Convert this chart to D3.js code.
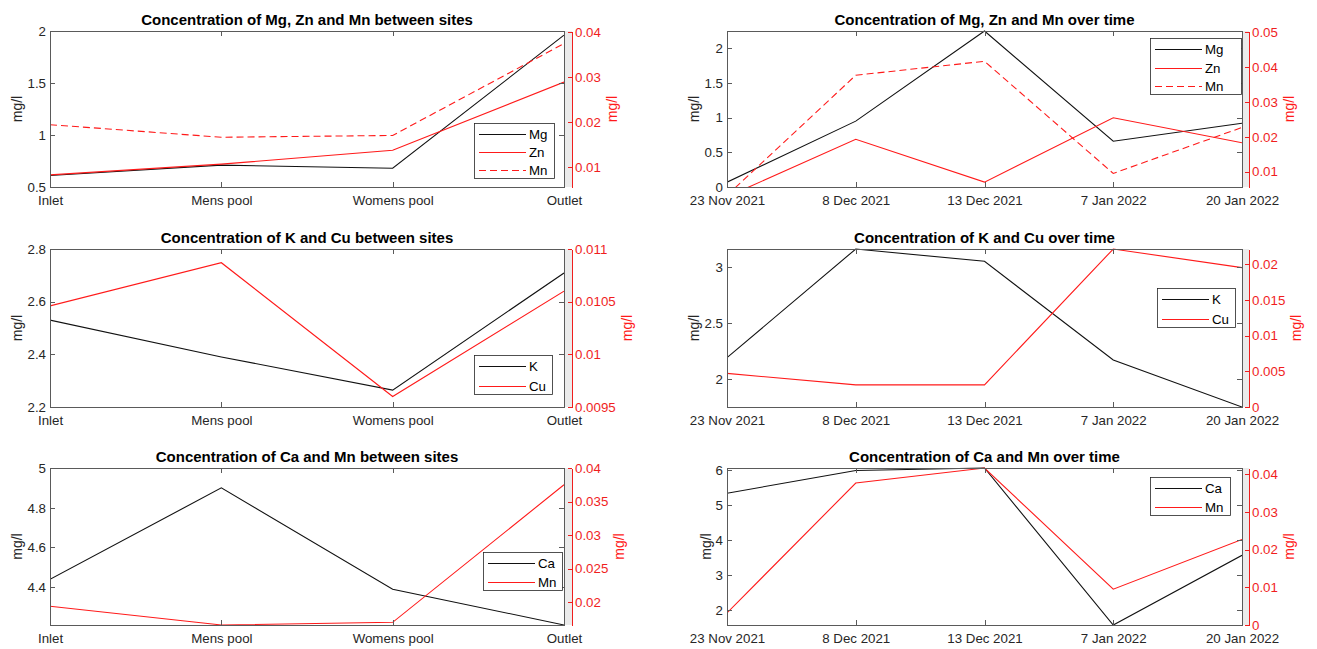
<!DOCTYPE html>
<meta charset="utf-8" />
<style>
    body { margin: 0; background: #fff; }
    text { font-family: "Liberation Sans", Arial, sans-serif; }
    .axis text { font-size: 13.3px; fill: #262626; }
    .axis path, .axis line { stroke: #5a5a5a; shape-rendering: crispEdges; }
    .axis--red text { fill: #f01e1e; }
    .axis--red path, .axis--red line { stroke: #f01e1e; }
    .title { font-size: 15px; font-weight: bold; fill: #000; }
    .ylabel { font-size: 14px; fill: #262626; }
    .legend text { font-size: 13.3px; fill: #000; }
</style>

<svg width="1317" height="649"></svg>

<script src="https://d3js.org/d3.v7.min.js"></script>
<script>
    // categories
    const sites = ['Inlet', 'Mens pool', 'Womens pool', 'Outlet'];
    const dates = ['23 Nov 2021', '8 Dec 2021', '13 Dec 2021', '7 Jan 2022', '20 Jan 2022'];

    // concentrations between sites (mg/l)
    const mgSites = [0.61, 0.71, 0.68, 1.96];
    const znSites = [0.0082, 0.0106, 0.0137, 0.0289];
    const mnSites = [0.0194, 0.0166, 0.0170, 0.0375];
    const kSites = [2.53, 2.39, 2.264, 2.709];
    const cuSites = [0.01046, 0.01087, 0.0096, 0.0106];
    const caSites = [4.44, 4.90, 4.39, 4.21];

    // concentrations over time (mg/l)
    const mgTime = [0.07, 0.95, 2.25, 0.66, 0.92];
    const znTime = [0.0028, 0.0193, 0.0070, 0.0255, 0.0183];
    const mnTime = [0.0032, 0.0377, 0.0417, 0.0095, 0.0227];
    const kTime = [2.19, 3.16, 3.05, 2.17, 1.75];
    const cuTime = [0.0047, 0.0031, 0.0031, 0.0221, 0.0195];
    const caTime = [5.33, 5.98, 6.05, 1.57, 3.56];

    // tick labels
    const ticksMgL = [0.5, 1, 1.5, 2];
    const ticksMgR = [0.01, 0.02, 0.03, 0.04];
    const ticksMgTimeL = [0, 0.5, 1, 1.5, 2];
    const ticksMgTimeR = [0.01, 0.02, 0.03, 0.04, 0.05];
    const ticksKL = [2.2, 2.4, 2.6, 2.8];
    const ticksKR = [0.0095, 0.01, 0.0105, 0.011];
    const ticksKTimeL = [2, 2.5, 3];
    const ticksKTimeR = [0, 0.005, 0.01, 0.015, 0.02];
    const ticksCaL = [4.4, 4.6, 4.8, 5];
    const ticksCaR = [0.02, 0.025, 0.03, 0.035, 0.04];
    const ticksCaTimeL = [2, 3, 4, 5, 6];
    const ticksCaTimeR = [0, 0.01, 0.02, 0.03, 0.04];

    const BLACK = '#111';
    const RED = '#ff1a1a';

    const cols = [
        { x0: 50, x1: 564, axisX: 572 },
        { x0: 727, x1: 1242, axisX: 1249 },
    ];
    const rows = [
        { y0: 31, y1: 187 },
        { y0: 249, y1: 407 },
        { y0: 468, y1: 625 },
    ];

    const panels = [
        {
            title: 'Concentration of Mg, Zn and Mn between sites', col: 0, row: 0, cats: sites,
            left: { domain: [0.5, 2], ticks: ticksMgL, series: [{ name: 'Mg', values: mgSites }] },
            right: { domain: [0.0055, 0.0403], ticks: ticksMgR, series: [{ name: 'Zn', values: znSites }, { name: 'Mn', values: mnSites, dash: true }] },
            legend: { x: 474, y: 123, w: 80, h: 55 },
        },
        {
            title: 'Concentration of Mg, Zn and Mn over time', col: 1, row: 0, cats: dates,
            left: { domain: [0, d3.max(mgTime)], ticks: ticksMgTimeL, series: [{ name: 'Mg', values: mgTime }] },
            right: { domain: [0.0056, 0.0504], ticks: ticksMgTimeR, series: [{ name: 'Zn', values: znTime }, { name: 'Mn', values: mnTime, dash: true }] },
            legend: { x: 1150, y: 38, w: 91, h: 56 },
        },
        {
            title: 'Concentration of K and Cu between sites', col: 0, row: 1, cats: sites,
            left: { domain: [2.2, 2.8], ticks: ticksKL, series: [{ name: 'K', values: kSites }] },
            right: { domain: [0.0095, 0.011], ticks: ticksKR, series: [{ name: 'Cu', values: cuSites }] },
            legend: { x: 474, y: 355, w: 78, h: 39 },
        },
        {
            title: 'Concentration of K and Cu over time', col: 1, row: 1, cats: dates,
            left: { domain: d3.extent(kTime), ticks: ticksKTimeL, series: [{ name: 'K', values: kTime }] },
            right: { domain: [0, d3.max(cuTime)], ticks: ticksKTimeR, series: [{ name: 'Cu', values: cuTime }] },
            legend: { x: 1157, y: 288, w: 78, h: 39 },
        },
        {
            title: 'Concentration of Ca and Mn between sites', col: 0, row: 2, cats: sites,
            left: { domain: [d3.min(caSites), 5], ticks: ticksCaL, series: [{ name: 'Ca', values: caSites }] },
            right: { domain: [d3.min(mnSites), 0.04], ticks: ticksCaR, series: [{ name: 'Mn', values: mnSites }] },
            legend: { x: 483, y: 552, w: 79, h: 38 },
        },
        {
            title: 'Concentration of Ca and Mn over time', col: 1, row: 2, cats: dates,
            left: { domain: d3.extent(caTime), ticks: ticksCaTimeL, series: [{ name: 'Ca', values: caTime }] },
            right: { domain: [0, d3.max(mnTime)], ticks: ticksCaTimeR, series: [{ name: 'Mn', values: mnTime }] },
            legend: { x: 1150, y: 477, w: 80, h: 38 },
        },
    ];

    const svg = d3.select('svg');

    function drawPanel(p, i) {
        const c = cols[p.col];
        const r = rows[p.row];
        const g = svg.append('g');

        const x = d3.scalePoint().domain(p.cats).range([c.x0, c.x1]);
        const yL = d3.scaleLinear().domain(p.left.domain).range([r.y1, r.y0]);
        const yR = d3.scaleLinear().domain(p.right.domain).range([r.y1, r.y0]);

        // grey strip between the box and the red axis
        g.append('rect')
            .attr('x', c.x1)
            .attr('y', r.y0)
            .attr('width', c.axisX - c.x1)
            .attr('height', r.y1 - r.y0)
            .attr('fill', '#ebebeb');

        g.append('clipPath')
            .attr('id', `clip${i}`)
            .append('rect')
            .attr('x', c.x0)
            .attr('y', r.y0 - 1)
            .attr('width', c.x1 - c.x0)
            .attr('height', r.y1 - r.y0 + 2);

        const lines = g.append('g').attr('clip-path', `url(#clip${i})`);

        const drawSeries = (s, y, color) => {
            const line = d3.line()
                .x((d, j) => x(p.cats[j]))
                .y(d => y(d));
            lines.append('path')
                .datum(s.values)
                .attr('fill', 'none')
                .attr('stroke', color)
                .attr('stroke-width', 1.1)
                .attr('stroke-dasharray', s.dash ? '7,4' : null)
                .attr('d', line);
        };
        p.left.series.forEach(s => drawSeries(s, yL, BLACK));
        p.right.series.forEach(s => drawSeries(s, yR, RED));

        // box axes
        const gl = g.append('g').attr('class', 'axis')
            .attr('transform', `translate(${c.x0},0)`)
            .call(d3.axisLeft(yL).tickValues(p.left.ticks).tickSize(-5).tickSizeOuter(0).tickPadding(4).tickFormat(d => String(d)));
        g.append('g').attr('class', 'axis')
            .attr('transform', `translate(${c.x1},0)`)
            .call(d3.axisRight(yL).tickValues(p.left.ticks).tickSize(-5).tickSizeOuter(0).tickFormat(''));
        g.append('g').attr('class', 'axis')
            .attr('transform', `translate(0,${r.y1})`)
            .call(d3.axisBottom(x).tickSize(-5).tickSizeOuter(0).tickPadding(9));
        g.append('g').attr('class', 'axis')
            .attr('transform', `translate(0,${r.y0})`)
            .call(d3.axisTop(x).tickSize(-5).tickSizeOuter(0).tickFormat(''));
        const gr = g.append('g').attr('class', 'axis axis--red')
            .attr('transform', `translate(${c.axisX},0)`)
            .call(d3.axisRight(yR).tickValues(p.right.ticks).tickSize(-4).tickSizeOuter(0).tickPadding(3).tickFormat(d => String(d)));

        // title
        g.append('text')
            .attr('class', 'title')
            .attr('x', (c.x0 + c.x1) / 2)
            .attr('y', r.y0 - 6)
            .attr('text-anchor', 'middle')
            .text(p.title);

        // y labels
        const wL = d3.max(gl.selectAll('.tick text').nodes(), n => n.getBBox().width);
        const wR = d3.max(gr.selectAll('.tick text').nodes(), n => n.getBBox().width);
        const cy = (r.y0 + r.y1) / 2;
        const lx = c.x0 - 4 - wL - 10;
        g.append('text')
            .attr('class', 'ylabel')
            .attr('transform', `translate(${lx},${cy}) rotate(-90)`)
            .attr('text-anchor', 'middle')
            .attr('dy', '0.35em')
            .text('mg/l');
        const rx = c.axisX + 3 + wR + 11;
        g.append('text')
            .attr('class', 'ylabel')
            .attr('transform', `translate(${rx},${cy}) rotate(-90)`)
            .attr('text-anchor', 'middle')
            .attr('dy', '0.35em')
            .style('fill', RED)
            .text('mg/l');

        // legend
        const lg = p.legend;
        const entries = [
            ...p.left.series.map(s => ({ ...s, color: BLACK })),
            ...p.right.series.map(s => ({ ...s, color: RED })),
        ];
        const leg = g.append('g').attr('class', 'legend');
        leg.append('rect')
            .attr('x', lg.x + 0.5)
            .attr('y', lg.y + 0.5)
            .attr('width', lg.w)
            .attr('height', lg.h)
            .attr('fill', '#fff')
            .attr('stroke', '#262626')
            .attr('stroke-width', 0.8);
        const rowH = lg.h / entries.length;
        entries.forEach((e, j) => {
            const ey = Math.round(lg.y + rowH * (j + 0.5) + 1.5) + 0.5;
            leg.append('line')
                .attr('x1', lg.x + 5)
                .attr('x2', lg.x + 52)
                .attr('y1', ey)
                .attr('y2', ey)
                .attr('stroke', e.color)
                .attr('stroke-width', 1)
                .attr('stroke-dasharray', e.dash ? '7,4' : null);
            leg.append('text')
                .attr('x', lg.x + 55)
                .attr('y', ey)
                .attr('dy', '0.35em')
                .text(e.name);
        });
    }

    panels.forEach(drawPanel);
</script>
